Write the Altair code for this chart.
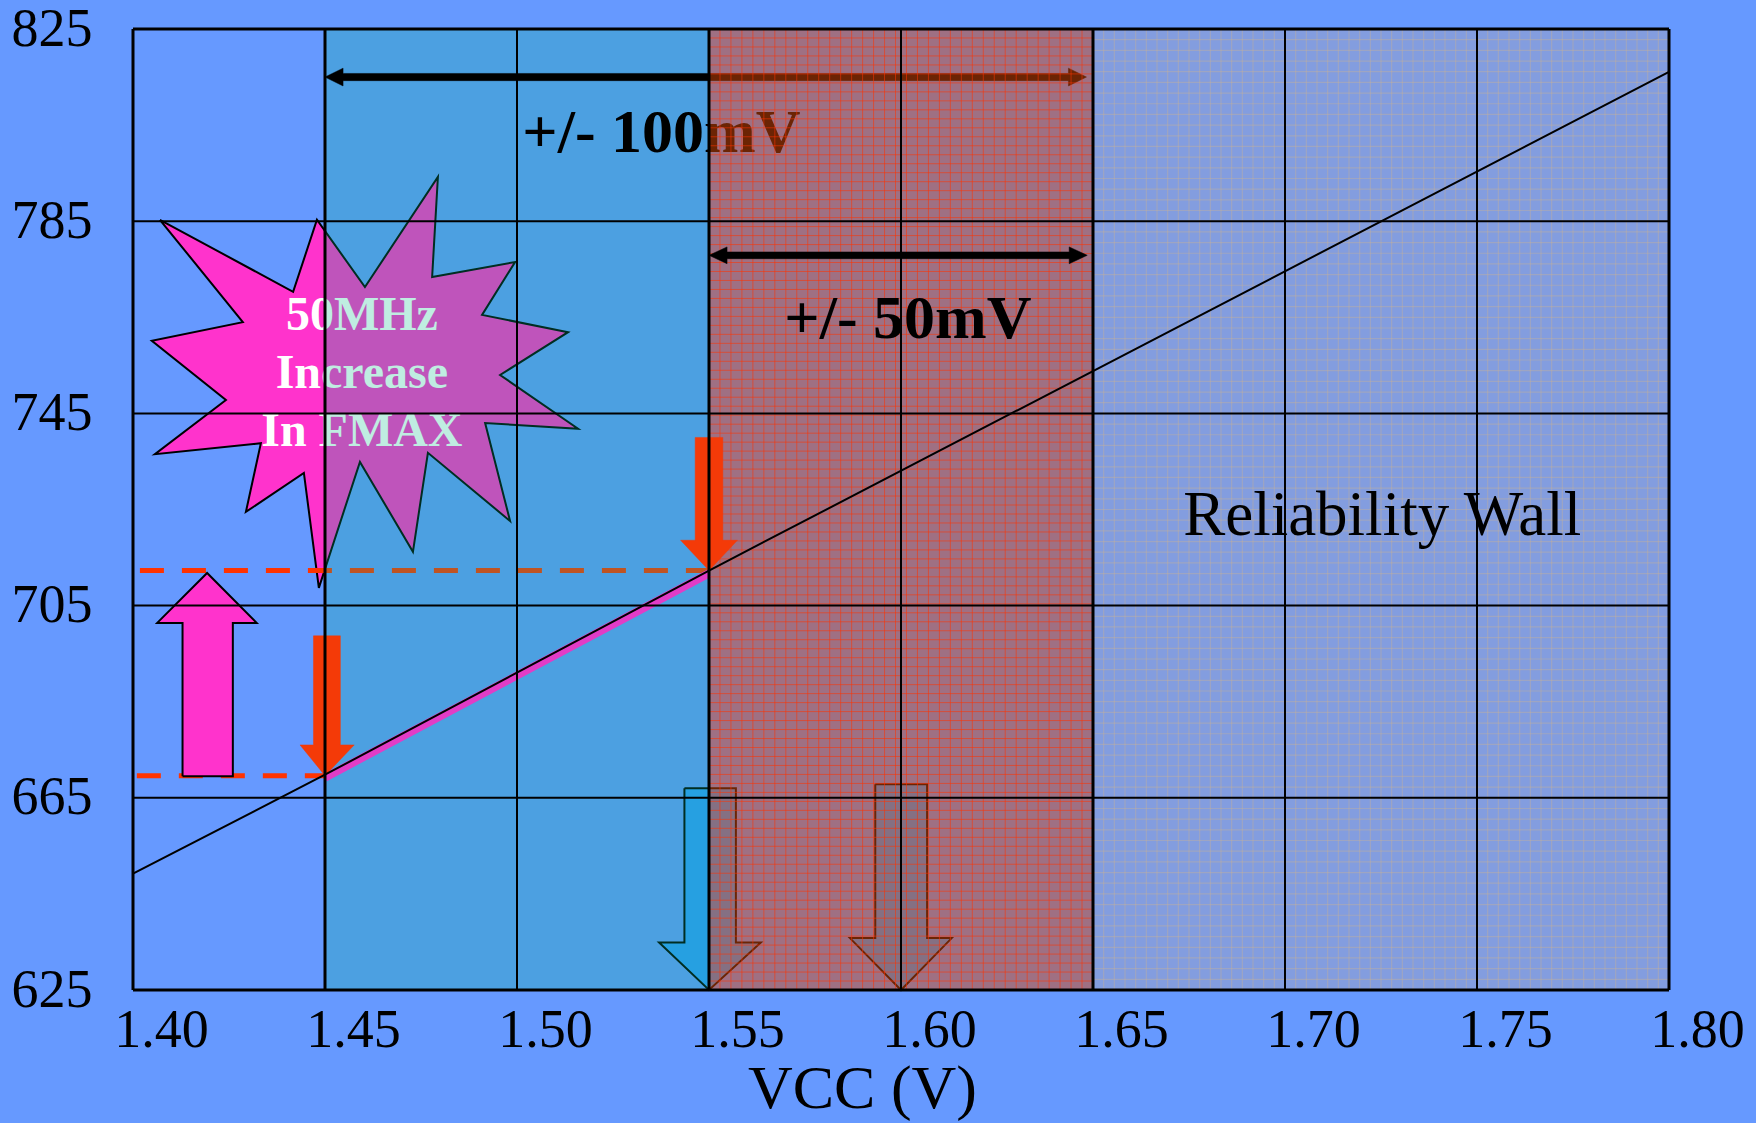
import altair as alt
import numpy as np
import pandas as pd

FONT = "Liberation Serif"
BG = "#6699FF"

# ---------------- axes ----------------
X_DOMAIN = [1.40, 1.80]
Y_DOMAIN = [625, 825]
X_TICKS = [1.40, 1.45, 1.50, 1.55, 1.60, 1.65, 1.70, 1.75, 1.80]
Y_TICKS = [625, 665, 705, 745, 785, 825]
X_GRID = [1.50, 1.60, 1.70, 1.75]
X_BOUNDS = [1.45, 1.55, 1.65]
Y_GRID = [665, 705, 745, 785]

# ---------------- FMAX vs VCC ----------------
VCC = [1.40, 1.45, 1.55, 1.80]
FMAX = [649.2, 669.8, 712.3, 816.1]

BAND_VCC = [1.45, 1.55]
BAND_FMAX = [669.2, 711.7]

DASH_X0 = [1.4018, 1.4010]
DASH_X1 = [1.55, 1.45]
DASH_Y = [712.3, 669.6]

# ---------------- zones ----------------
ZONE_GUARD = [1.45, 1.55]
ZONE_WINDOW = [1.55, 1.65]
ZONE_WALL = [1.65, 1.80]

# ---------------- starburst ----------------
STAR_X = [1.4070, 1.4417, 1.4479, 1.4604, 1.4794, 1.4779, 1.4995, 1.4909,
          1.5133, 1.4956, 1.5159, 1.4917, 1.4982, 1.4768, 1.4729, 1.4591,
          1.4484, 1.4445, 1.4294, 1.4333, 1.4057, 1.4242, 1.4049, 1.4286]
STAR_Y = [785.3, 770.3, 785.3, 771.3, 794.2, 773.4, 776.5, 765.5,
          761.9, 753.0, 741.8, 743.0, 722.6, 736.8, 716.2, 734.9,
          708.7, 732.6, 724.5, 738.8, 736.5, 747.8, 760.1, 764.0]
STAR_TEXT = ["50MHz", "Increase", "In FMAX"]
STAR_TEXT_X = [1.4596, 1.4596, 1.4596]
STAR_TEXT_Y = [762.4, 750.3, 738.2]

# ---------------- block arrows ----------------
UP_ARROW = dict(sl=1.4129, sr=1.4260, end=669.5, hb=701.4, hl=1.4063, hr=1.4322, tx=1.4193, ty=711.8)
ORANGE_ARROWS = [
    dict(sl=1.4470, sr=1.4540, end=698.7, hb=676.0, hl=1.4435, hr=1.4576, tx=1.45, ty=669.6),
    dict(sl=1.5464, sr=1.5536, end=740.0, hb=718.6, hl=1.5426, hr=1.5574, tx=1.55, ty=712.3),
]
BLUE_ARROWS = [
    dict(sl=1.5436, sr=1.5570, end=667.0, hb=634.9, hl=1.5370, hr=1.5635, tx=1.55, ty=625.0),
    dict(sl=1.5933, sr=1.6068, end=667.8, hb=635.8, hl=1.5867, hr=1.6132, tx=1.60, ty=625.0),
]
SPAN_100 = dict(x0=1.45, x1=1.6483, y=815.0, hl=0.0047, hh=1.85, sh=0.75)
SPAN_50 = dict(x0=1.55, x1=1.6485, y=777.9, hl=0.0047, hh=1.75, sh=0.70)

LABEL_TEXT = ["+/- 100mV", "+/- 50mV"]
LABEL_X = [1.5376, 1.6018]
LABEL_Y = [799.3, 760.6]
WALL_TEXT = ["Reliability Wall"]
WALL_X = [1.7253]
WALL_Y = [719.7]

# ---------------- scales & axes ----------------
xs = alt.Scale(domain=X_DOMAIN, nice=False, zero=False)
ys = alt.Scale(domain=Y_DOMAIN, nice=False, zero=False)

X_AXIS = alt.Axis(values=X_TICKS, format=".2f", labelFont=FONT, labelFontSize=54, labelColor="black",
                  labelOffset=28, labelBaseline="alphabetic", labelPadding=56, ticks=False, tickSize=0,
                  domain=False, grid=False, labelFlush=False, labelOverlap=False,
                  title="VCC (V)", titleFont=FONT, titleFontSize=62, titleFontWeight="normal",
                  titleColor="black", titleX=729, titleY=117, titleBaseline="alphabetic",
                  titleAlign="center")
Y_AXIS = alt.Axis(values=Y_TICKS, format="d", labelFont=FONT, labelFontSize=54, labelColor="black",
                  labelPadding=41, labelBaseline="middle", ticks=False, tickSize=0, domain=False,
                  grid=False, labelFlush=False, labelOverlap=False)


def ex(f="x"):
    return alt.X(f"{f}:Q", scale=xs, axis=X_AXIS, title="VCC (V)")


def ey(f="y"):
    return alt.Y(f"{f}:Q", scale=ys, axis=Y_AXIS, title=None)


def block_arrow(a, name):
    px = [a["sl"], a["sr"], a["sr"], a["hr"], a["tx"], a["hl"], a["sl"], a["sl"]]
    py = [a["end"], a["end"], a["hb"], a["hb"], a["ty"], a["hb"], a["hb"], a["end"]]
    return pd.DataFrame({"x": px, "y": py, "i": range(len(px)), "shape": name})


def span_arrow(a, name):
    x0, x1, y, hl, hh, sh = a["x0"], a["x1"], a["y"], a["hl"], a["hh"], a["sh"]
    px = [x0, x0 + hl, x0 + hl, x1 - hl, x1 - hl, x1, x1 - hl, x1 - hl, x0 + hl, x0 + hl, x0]
    py = [y, y + hh, y + sh, y + sh, y + hh, y, y - hh, y - sh, y - sh, y - hh, y]
    return pd.DataFrame({"x": px, "y": py, "i": range(len(px)), "shape": name})


def polygon(df, fill, stroke, sw):
    return alt.Chart(df).mark_line(fill=fill, stroke=stroke, strokeWidth=sw, strokeJoin="miter").encode(
        x=ex(), y=ey(), order=alt.Order("i:Q"), detail="shape:N")


def zone(rng, color, op):
    df = pd.DataFrame({"x0": [rng[0]], "x1": [rng[1]], "y0": [Y_DOMAIN[0]], "y1": [Y_DOMAIN[1]]})
    return alt.Chart(df).mark_rect(color=color, opacity=op).encode(
        x=ex("x0"), x2="x1", y=ey("y0"), y2="y1")


def fine_grid(rng, nx, ny, color, op, sw):
    vx = np.linspace(rng[0], rng[1], nx)[1:-1]
    hy = np.linspace(Y_DOMAIN[0], Y_DOMAIN[1], ny)[1:-1]
    v = alt.Chart(pd.DataFrame({"x": vx})).mark_rule(color=color, opacity=op, strokeWidth=sw).encode(x=ex())
    h = alt.Chart(pd.DataFrame({"y": hy, "x0": rng[0], "x1": rng[1]})).mark_rule(
        color=color, opacity=op, strokeWidth=sw).encode(y=ey(), x=ex("x0"), x2="x1")
    return v + h


# ---------------- layers ----------------
star_df = pd.DataFrame({"x": STAR_X + STAR_X[:1], "y": STAR_Y + STAR_Y[:1],
                        "i": range(len(STAR_X) + 1), "shape": "star"})
star = polygon(star_df, "#FF33CC", "black", 2)
star_text = alt.Chart(pd.DataFrame({"x": STAR_TEXT_X, "y": STAR_TEXT_Y, "t": STAR_TEXT})).mark_text(
    font=FONT, fontSize=48, fontWeight="bold", color="white", align="center", baseline="alphabetic"
).encode(x=ex(), y=ey(), text="t:N")

dashes = alt.Chart(pd.DataFrame({"x0": DASH_X0, "x1": DASH_X1, "y": DASH_Y})).mark_rule(
    color="#FF3300", strokeWidth=5, strokeDash=[24, 18]).encode(x=ex("x0"), x2="x1", y=ey())

band = alt.Chart(pd.DataFrame({"x": BAND_VCC, "y": BAND_FMAX})).mark_line(
    color="#E23CC6", strokeWidth=8).encode(x=ex(), y=ey())

up_arrow = polygon(block_arrow(UP_ARROW, "up"), "#FF33CC", "black", 2)
blue_arrows = polygon(pd.concat([block_arrow(a, f"b{k}") for k, a in enumerate(BLUE_ARROWS)]),
                      "#3399FF", "black", 2)
orange_arrows = polygon(pd.concat([block_arrow(a, f"o{k}") for k, a in enumerate(ORANGE_ARROWS)]),
                        "#F43A08", "#F43A08", 0.5)

arrow100 = polygon(span_arrow(SPAN_100, "a100"), "black", "black", 0.5)
arrow50 = polygon(span_arrow(SPAN_50, "a50"), "black", "black", 0.5)

label100 = alt.Chart(pd.DataFrame({"x": LABEL_X[:1], "y": LABEL_Y[:1], "t": LABEL_TEXT[:1]})).mark_text(
    font=FONT, fontSize=62, fontWeight="bold", color="black", align="center", baseline="alphabetic"
).encode(x=ex(), y=ey(), text="t:N")
label50 = alt.Chart(pd.DataFrame({"x": LABEL_X[1:], "y": LABEL_Y[1:], "t": LABEL_TEXT[1:]})).mark_text(
    font=FONT, fontSize=62, fontWeight="bold", color="black", align="center", baseline="alphabetic"
).encode(x=ex(), y=ey(), text="t:N")
wall = alt.Chart(pd.DataFrame({"x": WALL_X, "y": WALL_Y, "t": WALL_TEXT})).mark_text(
    font=FONT, fontSize=63, color="black", align="center", baseline="alphabetic"
).encode(x=ex(), y=ey(), text="t:N")

grid_v = alt.Chart(pd.DataFrame({"x": X_GRID})).mark_rule(color="black", strokeWidth=2).encode(x=ex())
grid_h = alt.Chart(pd.DataFrame({"y": Y_GRID})).mark_rule(color="black", strokeWidth=2).encode(y=ey())
bounds = alt.Chart(pd.DataFrame({"x": X_BOUNDS})).mark_rule(color="black", strokeWidth=3).encode(x=ex())

main_line = alt.Chart(pd.DataFrame({"x": VCC, "y": FMAX})).mark_line(color="black", strokeWidth=2).encode(
    x=ex(), y=ey())

border_v = alt.Chart(pd.DataFrame({"x": X_DOMAIN})).mark_rule(color="black", strokeWidth=3).encode(x=ex())
border_h = alt.Chart(pd.DataFrame({"y": Y_DOMAIN})).mark_rule(color="black", strokeWidth=3).encode(y=ey())

chart = alt.layer(
    star, star_text, dashes, up_arrow, blue_arrows,
    zone(ZONE_GUARD, "#00B987", 0.25),
    arrow100, label100,
    zone(ZONE_WINDOW, "#D84808", 0.5),
    zone(ZONE_WALL, "#C8AA96", 0.3),
    fine_grid(ZONE_WINDOW, 36, 108, "#FF3300", 0.55, 1.0),
    fine_grid(ZONE_WALL, 55, 91, "#D2B48C", 0.35, 1.2),
    band, orange_arrows,
    grid_v, grid_h, bounds,
    main_line, arrow50, label50, wall,
    border_v, border_h,
).properties(
    width=1536, height=961,
    padding={"left": 133, "top": 29, "right": 87, "bottom": 133},
    autosize=alt.AutoSizeParams(type="none"),
    background=BG,
).configure_view(strokeWidth=0, fill=BG)

chart.save("out.html", embed_options={"renderer": "svg", "actions": False})
